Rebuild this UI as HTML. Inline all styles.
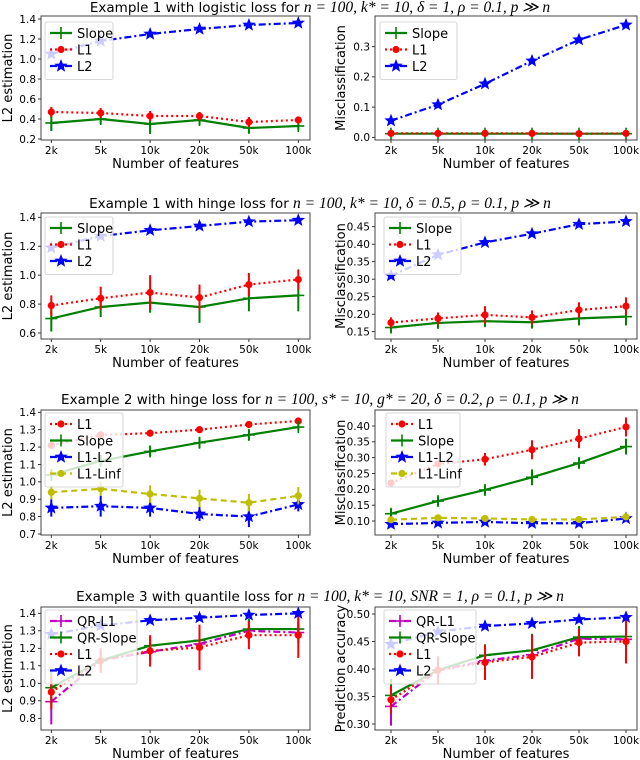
<!DOCTYPE html>
<html><head><meta charset="utf-8"><style>
body{margin:0;background:#fff}
svg{display:block;font-family:"DejaVu Sans","Liberation Sans",sans-serif}
</style></head><body>
<svg id="fig" width="640" height="760" viewBox="0 0 640 760" xmlns="http://www.w3.org/2000/svg"></svg>
<script>
const categories = ['2k','5k','10k','20k','50k','100k'];
// Panel 1 (logistic, L2 estimation)
const p1_slope=[0.36,0.40,0.35,0.39,0.31,0.33], p1_slope_err=[0.08,0.05,0.10,0.05,0.05,0.04];
const p1_l1=[0.47,0.46,0.43,0.43,0.37,0.39], p1_l1_err=[0.05,0.05,0.05,0.04,0.05,0.03];
const p1_l2=[1.05,1.18,1.25,1.30,1.34,1.36];
const p1_ticks=[0.2,0.4,0.6,0.8,1.0,1.2,1.4];
// Panel 2 (logistic, misclassification)
const p2_slope=[0.012,0.012,0.012,0.012,0.012,0.012], p2_slope_err=[0.01,0.01,0.01,0.01,0.01,0.01];
const p2_l1=[0.013,0.013,0.013,0.013,0.012,0.013], p2_l1_err=[0.004,0.004,0.004,0.004,0.004,0.004];
const p2_l2=[0.055,0.108,0.177,0.253,0.323,0.372];
const p2_ticks=[0.0,0.1,0.2,0.3];
// Panel 3 (hinge, L2 estimation)
const p3_slope=[0.70,0.78,0.81,0.78,0.84,0.86], p3_slope_err=[0.09,0.07,0.07,0.11,0.09,0.11];
const p3_l1=[0.79,0.84,0.88,0.845,0.935,0.97], p3_l1_err=[0.07,0.08,0.12,0.09,0.08,0.07];
const p3_l2=[1.19,1.27,1.31,1.34,1.37,1.38];
const p3_ticks=[0.6,0.8,1.0,1.2,1.4];
// Panel 4 (hinge, misclassification)
const p4_slope=[0.162,0.175,0.18,0.177,0.188,0.193], p4_slope_err=[0.015,0.015,0.015,0.018,0.02,0.025];
const p4_l1=[0.176,0.188,0.198,0.191,0.212,0.223], p4_l1_err=[0.015,0.017,0.025,0.02,0.022,0.025];
const p4_l2=[0.31,0.37,0.405,0.43,0.457,0.465];
const p4_ticks=[0.15,0.20,0.25,0.30,0.35,0.40,0.45];
// Panel 5 (example 2, L2 estimation)
const p5_l1=[1.21,1.27,1.28,1.30,1.33,1.35], p5_l1_err=[0.02,0.02,0.02,0.02,0.02,0.015];
const p5_slope=[1.04,1.12,1.175,1.225,1.27,1.315], p5_slope_err=[0.03,0.03,0.03,0.03,0.03,0.02];
const p5_l1l2=[0.85,0.86,0.85,0.815,0.80,0.87], p5_l1l2_err=[0.05,0.06,0.05,0.04,0.06,0.04];
const p5_linf=[0.94,0.96,0.93,0.905,0.88,0.92], p5_linf_err=[0.04,0.04,0.05,0.05,0.05,0.05];
const p5_ticks=[0.7,0.8,0.9,1.0,1.1,1.2,1.3,1.4];
// Panel 6 (example 2, misclassification)
const p6_l1=[0.22,0.28,0.295,0.325,0.36,0.397], p6_l1_err=[0.01,0.01,0.02,0.03,0.03,0.03];
const p6_slope=[0.123,0.163,0.198,0.238,0.283,0.335], p6_slope_err=[0.015,0.015,0.015,0.025,0.015,0.025];
const p6_l1l2=[0.09,0.094,0.097,0.093,0.093,0.108], p6_l1l2_err=[0.007,0.007,0.007,0.007,0.007,0.007];
const p6_linf=[0.104,0.11,0.108,0.105,0.105,0.113], p6_linf_err=[0.006,0.006,0.006,0.006,0.006,0.006];
const p6_ticks=[0.10,0.15,0.20,0.25,0.30,0.35,0.40];
// Panel 7 (quantile, L2 estimation)
const p7_qrl1=[0.895,1.13,1.18,1.225,1.30,1.29], p7_qrl1_err=[0.13,0.05,0.05,0.08,0.06,0.06];
const p7_qrslope=[0.975,1.13,1.215,1.245,1.31,1.31], p7_qrslope_err=[0.1,0.05,0.05,0.07,0.06,0.06];
const p7_l1=[0.95,1.13,1.185,1.205,1.275,1.275], p7_l1_err=[0.1,0.07,0.09,0.13,0.08,0.13];
const p7_l2=[1.28,1.33,1.36,1.375,1.39,1.40];
const p7_ticks=[0.8,0.9,1.0,1.1,1.2,1.3,1.4];
// Panel 8 (quantile, prediction accuracy)
const p8_qrl1=[0.332,0.398,0.415,0.426,0.455,0.454], p8_qrl1_err=[0.035,0.02,0.02,0.03,0.02,0.03];
const p8_qrslope=[0.352,0.398,0.425,0.434,0.458,0.459], p8_qrslope_err=[0.03,0.02,0.02,0.03,0.02,0.03];
const p8_l1=[0.344,0.398,0.412,0.422,0.448,0.45], p8_l1_err=[0.025,0.025,0.032,0.04,0.025,0.04];
const p8_l2=[0.445,0.468,0.478,0.483,0.49,0.494];
const p8_ticks=[0.30,0.35,0.40,0.45,0.50];

const NS='http://www.w3.org/2000/svg';
const svg=document.getElementById('fig');
function mk(tag,attrs,parent){const e=document.createElementNS(NS,tag);for(const k in attrs)e.setAttribute(k,attrs[k]);(parent||svg).appendChild(e);return e;}

const STY={
 slope:{c:'#008000',dash:'',m:'plus',w:2.2,label:'Slope'},
 qrslope:{c:'#008000',dash:'',m:'plus',w:2.2,label:'QR-Slope'},
 l1:{c:'#ff0000',dash:'2,3',m:'circle',w:2.2,label:'L1'},
 l2:{c:'#0000ff',dash:'7,3,2,3',m:'star',w:2.2,label:'L2'},
 l1l2:{c:'#0000ff',dash:'7,3,2,3',m:'star',w:2.2,label:'L1-L2'},
 linf:{c:'#bfbf00',dash:'6,4',m:'circle',w:2.2,label:'L1-Linf'},
 qrl1:{c:'#bf00bf',dash:'7,3,2,3',m:'plus',w:2.2,label:'QR-L1'}
};
function marker(g,type,x,y,c){
 if(type==='circle')mk('circle',{cx:x,cy:y,r:3.6,fill:c},g);
 else if(type==='plus'){mk('line',{x1:x-6,y1:y,x2:x+6,y2:y,stroke:c,'stroke-width':1.6},g);mk('line',{x1:x,y1:y-6,x2:x,y2:y+6,stroke:c,'stroke-width':1.6},g);}
 else{let p=[];for(let i=0;i<10;i++){const r=i%2?3:7,a=-Math.PI/2+i*Math.PI/5;p.push((x+r*Math.cos(a)).toFixed(1)+','+(y+r*Math.sin(a)).toFixed(1));}
  mk('polygon',{points:p.join(' '),fill:c},g);}
}
function panel(cfg){
 const g=mk('g',{});
 
 
 const L=cfg.left;
 const x0=L?41:375,x1=L?310:637,cx0=L?51.3:391,dx=L?49.4:47;
 const X=i=>cx0+i*dx;
 const Y=v=>cfg.ya[1]+(v-cfg.ya[0])*(cfg.yb[1]-cfg.ya[1])/(cfg.yb[0]-cfg.ya[0]);
 cfg.ticks.forEach(t=>{const y=Y(t);
  mk('line',{x1:x0-3,y1:y,x2:x0,y2:y,stroke:'#000','stroke-width':0.8},g);
  const tx=mk('text',{x:x0-5,y:y+3.8,'font-size':10.5,'text-anchor':'end'},g);
  
  
  tx.textContent=cfg.fmt(t);});
 categories.forEach((c,i)=>{const x=X(i);
  mk('line',{x1:x,y1:cfg.bot,x2:x,y2:cfg.bot+3,stroke:'#000','stroke-width':0.8},g);
  const tx=mk('text',{x:x,y:cfg.bot+14,'font-size':10.5,'text-anchor':'middle'},g);
  
  
  tx.textContent=c;});
 const xl=mk('text',{x:(x0+x1)/2,y:cfg.bot+28,'font-size':13,'text-anchor':'middle'},g);
 
 
 xl.textContent='Number of features';
 const ylx=L?12:345,yly=(cfg.top+cfg.bot)/2;
 const yl=mk('text',{x:ylx,y:yly,'font-size':13,'text-anchor':'middle',transform:`rotate(-90 ${ylx} ${yly})`},g);
 
 
 yl.textContent=cfg.ylabel;
 cfg.series.forEach(s=>{const st=STY[s.k];
  const sg=mk('g',{},g);
  
  
  if(s.err)s.v.forEach((v,i)=>mk('line',{x1:X(i),y1:Y(v-s.err[i]),x2:X(i),y2:Y(v+s.err[i]),stroke:st.c,'stroke-width':2},sg));
  mk('polyline',{points:s.v.map((v,i)=>X(i)+','+Y(v)).join(' '),fill:'none',stroke:st.c,'stroke-width':st.w,'stroke-dasharray':st.dash},sg);
  s.v.forEach((v,i)=>marker(sg,st.m,X(i),Y(v),st.c));});
 mk('rect',{x:x0,y:cfg.top,width:x1-x0,height:cfg.bot-cfg.top,fill:'none',stroke:'#444','stroke-width':1},g);
 const lg=mk('g',{},g);
 
 
 const lx=cfg.leg[0],ly=cfg.leg[1],n=cfg.series.length;
 mk('rect',{x:lx,y:ly,width:cfg.leg[2],height:8+n*16.5,fill:'rgba(255,255,255,0.8)',stroke:'#ccc','stroke-width':0.8,rx:2},lg);
 cfg.series.forEach((s,i)=>{const st=STY[s.k],yy=ly+11+i*16.5;
  const e=mk('g',{},lg);
  
  
  mk('line',{x1:lx+5,y1:yy,x2:lx+27,y2:yy,stroke:st.c,'stroke-width':st.w,'stroke-dasharray':st.dash},e);
  marker(e,st.m,lx+16,yy,st.c);
  const t=mk('text',{x:lx+32,y:yy+5,'font-size':13},e);t.textContent=st.label;});
}
function title(y,plain,math){
 const t=mk('text',{x:320,y:y,'font-size':13.5,'text-anchor':'middle'});
 
 
 const a=mk('tspan',{},t);a.textContent=plain;
 const b=mk('tspan',{'font-family':'"Liberation Serif",serif','font-style':'italic','font-size':15.5},t);b.textContent=math;
}
const f1=v=>v.toFixed(1),f2=v=>v.toFixed(2);
title(12,'Example 1 with logistic loss for ','n = 100, k* = 10, δ = 1, ρ = 0.1, p ≫ n');
panel({name:'panel-logistic-l2',left:true,top:16,bot:140,ya:[0.2,139],yb:[1.4,19],ticks:p1_ticks,fmt:f1,ylabel:'L2 estimation',leg:[45,22,68],
 series:[{k:'slope',v:p1_slope,err:p1_slope_err},{k:'l1',v:p1_l1,err:p1_l1_err},{k:'l2',v:p1_l2}]});
panel({name:'panel-logistic-miscls',left:false,top:16,bot:140,ya:[0,137.3],yb:[0.3,46.7],ticks:p2_ticks,fmt:f1,ylabel:'Misclassification',leg:[380,22,77],
 series:[{k:'slope',v:p2_slope,err:p2_slope_err},{k:'l1',v:p2_l1,err:p2_l1_err},{k:'l2',v:p2_l2}]});
title(208,'Example 1 with hinge loss for ','n = 100, k* = 10, δ = 0.5, ρ = 0.1, p ≫ n');
panel({name:'panel-hinge-l2',left:true,top:213,bot:339,ya:[0.6,333],yb:[1.4,217.3],ticks:p3_ticks,fmt:f1,ylabel:'L2 estimation',leg:[45,217,68],
 series:[{k:'slope',v:p3_slope,err:p3_slope_err},{k:'l1',v:p3_l1,err:p3_l1_err},{k:'l2',v:p3_l2}]});
panel({name:'panel-hinge-miscls',left:false,top:213,bot:339,ya:[0.15,331.7],yb:[0.45,226.7],ticks:p4_ticks,fmt:f2,ylabel:'Misclassification',leg:[384,217,77],
 series:[{k:'slope',v:p4_slope,err:p4_slope_err},{k:'l1',v:p4_l1,err:p4_l1_err},{k:'l2',v:p4_l2}]});
title(404,'Example 2 with hinge loss for ','n = 100, s* = 10, g* = 20, δ = 0.2, ρ = 0.1, p ≫ n');
panel({name:'panel-ex2-l2',left:true,top:410,bot:535,ya:[0.7,534],yb:[1.4,412.3],ticks:p5_ticks,fmt:f1,ylabel:'L2 estimation',leg:[45,413,78],
 series:[{k:'l1',v:p5_l1,err:p5_l1_err},{k:'slope',v:p5_slope,err:p5_slope_err},{k:'l1l2',v:p5_l1l2,err:p5_l1l2_err},{k:'linf',v:p5_linf,err:p5_linf_err}]});
panel({name:'panel-ex2-miscls',left:false,top:410,bot:535,ya:[0.10,521],yb:[0.40,426],ticks:p6_ticks,fmt:f2,ylabel:'Misclassification',leg:[386,413,74],
 series:[{k:'l1',v:p6_l1,err:p6_l1_err},{k:'slope',v:p6_slope,err:p6_slope_err},{k:'l1l2',v:p6_l1l2,err:p6_l1l2_err},{k:'linf',v:p6_linf,err:p6_linf_err}]});
title(601,'Example 3 with quantile loss for ','n = 100, k* = 10, SNR = 1, ρ = 0.1, p ≫ n');
panel({name:'panel-ex3-l2',left:true,top:607,bot:730,ya:[0.8,718.3],yb:[1.4,613.3],ticks:p7_ticks,fmt:f1,ylabel:'L2 estimation',leg:[45,610,92],
 series:[{k:'qrl1',v:p7_qrl1,err:p7_qrl1_err},{k:'qrslope',v:p7_qrslope,err:p7_qrslope_err},{k:'l1',v:p7_l1,err:p7_l1_err},{k:'l2',v:p7_l2}]});
panel({name:'panel-ex3-accuracy',left:false,top:607,bot:730,ya:[0.30,724],yb:[0.50,614],ticks:p8_ticks,fmt:f2,ylabel:'Prediction accuracy',leg:[384,610,92],
 series:[{k:'qrl1',v:p8_qrl1,err:p8_qrl1_err},{k:'qrslope',v:p8_qrslope,err:p8_qrslope_err},{k:'l1',v:p8_l1,err:p8_l1_err},{k:'l2',v:p8_l2}]});
</script>
</body></html>
